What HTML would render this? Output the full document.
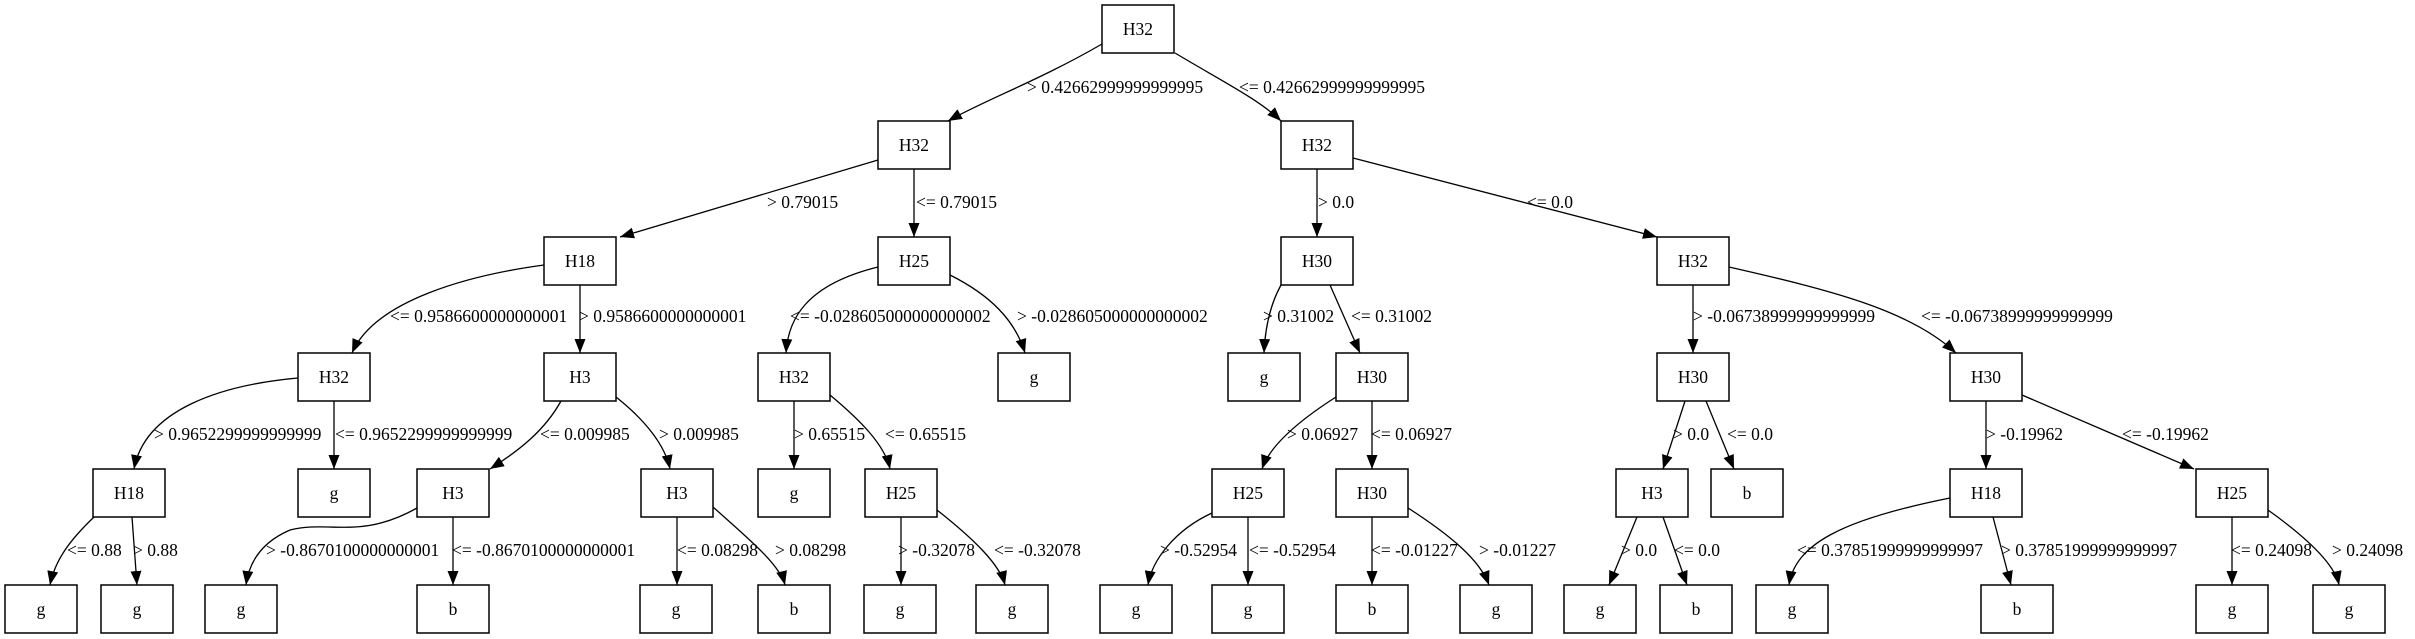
<!DOCTYPE html>
<html><head><meta charset="utf-8"><style>
html,body{margin:0;padding:0;background:#fff;}
svg{display:block;}
text{font-family:"Liberation Serif",serif;font-size:17.5px;fill:#000;}
.n{fill:#fff;stroke:#000;stroke-width:1.5;}
.e{fill:none;stroke:#000;stroke-width:1.3;marker-end:url(#a);}
</style></head><body>
<svg width="2415" height="639" viewBox="0 0 2415 639" xmlns="http://www.w3.org/2000/svg">
<defs><marker id="a" markerUnits="userSpaceOnUse" markerWidth="16" markerHeight="12" refX="14" refY="5.5" orient="auto"><path d="M0,0 L14,5.5 L0,11 Z" fill="#000"/></marker></defs>

<!-- edges -->
<path class="e" d="M1102,44 C1040,80 985,100 948,121"/>
<path class="e" d="M1175,53 C1220,80 1260,100 1281,121"/>
<path class="e" d="M878,160 L620,237"/>
<path class="e" d="M914,169 L914,237"/>
<path class="e" d="M1317,169 L1317,237"/>
<path class="e" d="M1353,158 L1657,237"/>

<path class="e" d="M544,265 C470,275 375,300 352,353"/>
<path class="e" d="M580,285 L580,353"/>
<path class="e" d="M878,267 C805,285 788,320 786,353"/>
<path class="e" d="M950,275 C990,295 1015,320 1025,353"/>
<path class="e" d="M1281,285 C1270,305 1265,330 1264,353"/>
<path class="e" d="M1330,285 L1360,353"/>
<path class="e" d="M1693,285 L1693,353"/>
<path class="e" d="M1729,267 C1830,290 1910,310 1956,353"/>

<path class="e" d="M298,378 C220,385 145,410 134,469"/>
<path class="e" d="M334,401 L334,469"/>
<path class="e" d="M561,401 C545,430 520,450 490,469"/>
<path class="e" d="M616,397 C645,420 665,445 670,469"/>
<path class="e" d="M794,401 L794,469"/>
<path class="e" d="M830,395 C860,420 885,445 890,469"/>
<path class="e" d="M1336,397 C1300,420 1270,445 1262,469"/>
<path class="e" d="M1372,401 L1372,469"/>
<path class="e" d="M1685,401 L1663,469"/>
<path class="e" d="M1706,401 L1734,469"/>
<path class="e" d="M1986,401 L1986,469"/>
<path class="e" d="M2022,395 L2194,469"/>

<path class="e" d="M94,517 C70,540 55,560 50,585"/>
<path class="e" d="M132,517 L137,585"/>
<path class="e" d="M417,508 C360,540 330,520 290,530 C255,545 248,570 246,585"/>
<path class="e" d="M453,517 L453,585"/>
<path class="e" d="M677,517 L677,585"/>
<path class="e" d="M713,507 C750,540 780,565 785,585"/>
<path class="e" d="M901,517 L901,585"/>
<path class="e" d="M937,510 C975,540 1000,565 1005,585"/>
<path class="e" d="M1212,513 C1175,530 1152,560 1148,585"/>
<path class="e" d="M1248,517 L1248,585"/>
<path class="e" d="M1372,517 L1372,585"/>
<path class="e" d="M1408,508 C1450,535 1480,560 1489,585"/>
<path class="e" d="M1637,517 L1609,585"/>
<path class="e" d="M1663,517 L1687,585"/>
<path class="e" d="M1950,498 C1840,520 1795,545 1789,585"/>
<path class="e" d="M1993,517 L2011,585"/>
<path class="e" d="M2232,517 L2232,585"/>
<path class="e" d="M2268,510 C2310,540 2335,565 2339,585"/>

<!-- edge labels -->
<g>
<text x="1027" y="93">&gt; 0.42662999999999995</text>
<text x="1239" y="93">&lt;= 0.42662999999999995</text>
<text x="767" y="208">&gt; 0.79015</text>
<text x="916" y="208">&lt;= 0.79015</text>
<text x="1318" y="208">&gt; 0.0</text>
<text x="1527" y="208">&lt;= 0.0</text>
<text x="390" y="322">&lt;= 0.9586600000000001</text>
<text x="579" y="322">&gt; 0.9586600000000001</text>
<text x="790" y="322">&lt;= -0.028605000000000002</text>
<text x="1017" y="322">&gt; -0.028605000000000002</text>
<text x="1263" y="322">&gt; 0.31002</text>
<text x="1351" y="322">&lt;= 0.31002</text>
<text x="1693" y="322">&gt; -0.06738999999999999</text>
<text x="1921" y="322">&lt;= -0.06738999999999999</text>
<text x="154" y="440">&gt; 0.9652299999999999</text>
<text x="335" y="440">&lt;= 0.9652299999999999</text>
<text x="540" y="440">&lt;= 0.009985</text>
<text x="659" y="440">&gt; 0.009985</text>
<text x="794" y="440">&gt; 0.65515</text>
<text x="885" y="440">&lt;= 0.65515</text>
<text x="1287" y="440">&gt; 0.06927</text>
<text x="1371" y="440">&lt;= 0.06927</text>
<text x="1673" y="440">&gt; 0.0</text>
<text x="1727" y="440">&lt;= 0.0</text>
<text x="1986" y="440">&gt; -0.19962</text>
<text x="2122" y="440">&lt;= -0.19962</text>
<text x="67" y="556">&lt;= 0.88</text>
<text x="133" y="556">&gt; 0.88</text>
<text x="266" y="556">&gt; -0.8670100000000001</text>
<text x="452" y="556">&lt;= -0.8670100000000001</text>
<text x="677" y="556">&lt;= 0.08298</text>
<text x="775" y="556">&gt; 0.08298</text>
<text x="898" y="556">&gt; -0.32078</text>
<text x="994" y="556">&lt;= -0.32078</text>
<text x="1160" y="556">&gt; -0.52954</text>
<text x="1249" y="556">&lt;= -0.52954</text>
<text x="1371" y="556">&lt;= -0.01227</text>
<text x="1479" y="556">&gt; -0.01227</text>
<text x="1621" y="556">&gt; 0.0</text>
<text x="1674" y="556">&lt;= 0.0</text>
<text x="1797" y="556">&lt;= 0.37851999999999997</text>
<text x="2001" y="556">&gt; 0.37851999999999997</text>
<text x="2231" y="556">&lt;= 0.24098</text>
<text x="2332" y="556">&gt; 0.24098</text>
</g>

<!-- nodes -->
<g text-anchor="middle">
<rect class="n" x="1102" y="5" width="72" height="48"/><text x="1138" y="35">H32</text>
<rect class="n" x="878" y="121" width="72" height="48"/><text x="914" y="151">H32</text>
<rect class="n" x="1281" y="121" width="72" height="48"/><text x="1317" y="151">H32</text>

<rect class="n" x="544" y="237" width="72" height="48"/><text x="580" y="267">H18</text>
<rect class="n" x="878" y="237" width="72" height="48"/><text x="914" y="267">H25</text>
<rect class="n" x="1281" y="237" width="72" height="48"/><text x="1317" y="267">H30</text>
<rect class="n" x="1657" y="237" width="72" height="48"/><text x="1693" y="267">H32</text>

<rect class="n" x="298" y="353" width="72" height="48"/><text x="334" y="383">H32</text>
<rect class="n" x="544" y="353" width="72" height="48"/><text x="580" y="383">H3</text>
<rect class="n" x="758" y="353" width="72" height="48"/><text x="794" y="383">H32</text>
<rect class="n" x="998" y="353" width="72" height="48"/><text x="1034" y="383">g</text>
<rect class="n" x="1228" y="353" width="72" height="48"/><text x="1264" y="383">g</text>
<rect class="n" x="1336" y="353" width="72" height="48"/><text x="1372" y="383">H30</text>
<rect class="n" x="1657" y="353" width="72" height="48"/><text x="1693" y="383">H30</text>
<rect class="n" x="1950" y="353" width="72" height="48"/><text x="1986" y="383">H30</text>

<rect class="n" x="93" y="469" width="72" height="48"/><text x="129" y="499">H18</text>
<rect class="n" x="298" y="469" width="72" height="48"/><text x="334" y="499">g</text>
<rect class="n" x="417" y="469" width="72" height="48"/><text x="453" y="499">H3</text>
<rect class="n" x="641" y="469" width="72" height="48"/><text x="677" y="499">H3</text>
<rect class="n" x="758" y="469" width="72" height="48"/><text x="794" y="499">g</text>
<rect class="n" x="865" y="469" width="72" height="48"/><text x="901" y="499">H25</text>
<rect class="n" x="1212" y="469" width="72" height="48"/><text x="1248" y="499">H25</text>
<rect class="n" x="1336" y="469" width="72" height="48"/><text x="1372" y="499">H30</text>
<rect class="n" x="1616" y="469" width="72" height="48"/><text x="1652" y="499">H3</text>
<rect class="n" x="1711" y="469" width="72" height="48"/><text x="1747" y="499">b</text>
<rect class="n" x="1950" y="469" width="72" height="48"/><text x="1986" y="499">H18</text>
<rect class="n" x="2196" y="469" width="72" height="48"/><text x="2232" y="499">H25</text>

<rect class="n" x="5" y="585" width="72" height="48"/><text x="41" y="615">g</text>
<rect class="n" x="101" y="585" width="72" height="48"/><text x="137" y="615">g</text>
<rect class="n" x="205" y="585" width="72" height="48"/><text x="241" y="615">g</text>
<rect class="n" x="417" y="585" width="72" height="48"/><text x="453" y="615">b</text>
<rect class="n" x="640" y="585" width="72" height="48"/><text x="676" y="615">g</text>
<rect class="n" x="758" y="585" width="72" height="48"/><text x="794" y="615">b</text>
<rect class="n" x="864" y="585" width="72" height="48"/><text x="900" y="615">g</text>
<rect class="n" x="976" y="585" width="72" height="48"/><text x="1012" y="615">g</text>
<rect class="n" x="1100" y="585" width="72" height="48"/><text x="1136" y="615">g</text>
<rect class="n" x="1212" y="585" width="72" height="48"/><text x="1248" y="615">g</text>
<rect class="n" x="1336" y="585" width="72" height="48"/><text x="1372" y="615">b</text>
<rect class="n" x="1460" y="585" width="72" height="48"/><text x="1496" y="615">g</text>
<rect class="n" x="1564" y="585" width="72" height="48"/><text x="1600" y="615">g</text>
<rect class="n" x="1660" y="585" width="72" height="48"/><text x="1696" y="615">b</text>
<rect class="n" x="1756" y="585" width="72" height="48"/><text x="1792" y="615">g</text>
<rect class="n" x="1981" y="585" width="72" height="48"/><text x="2017" y="615">b</text>
<rect class="n" x="2196" y="585" width="72" height="48"/><text x="2232" y="615">g</text>
<rect class="n" x="2313" y="585" width="72" height="48"/><text x="2349" y="615">g</text>
</g>
</svg>
</body></html>
